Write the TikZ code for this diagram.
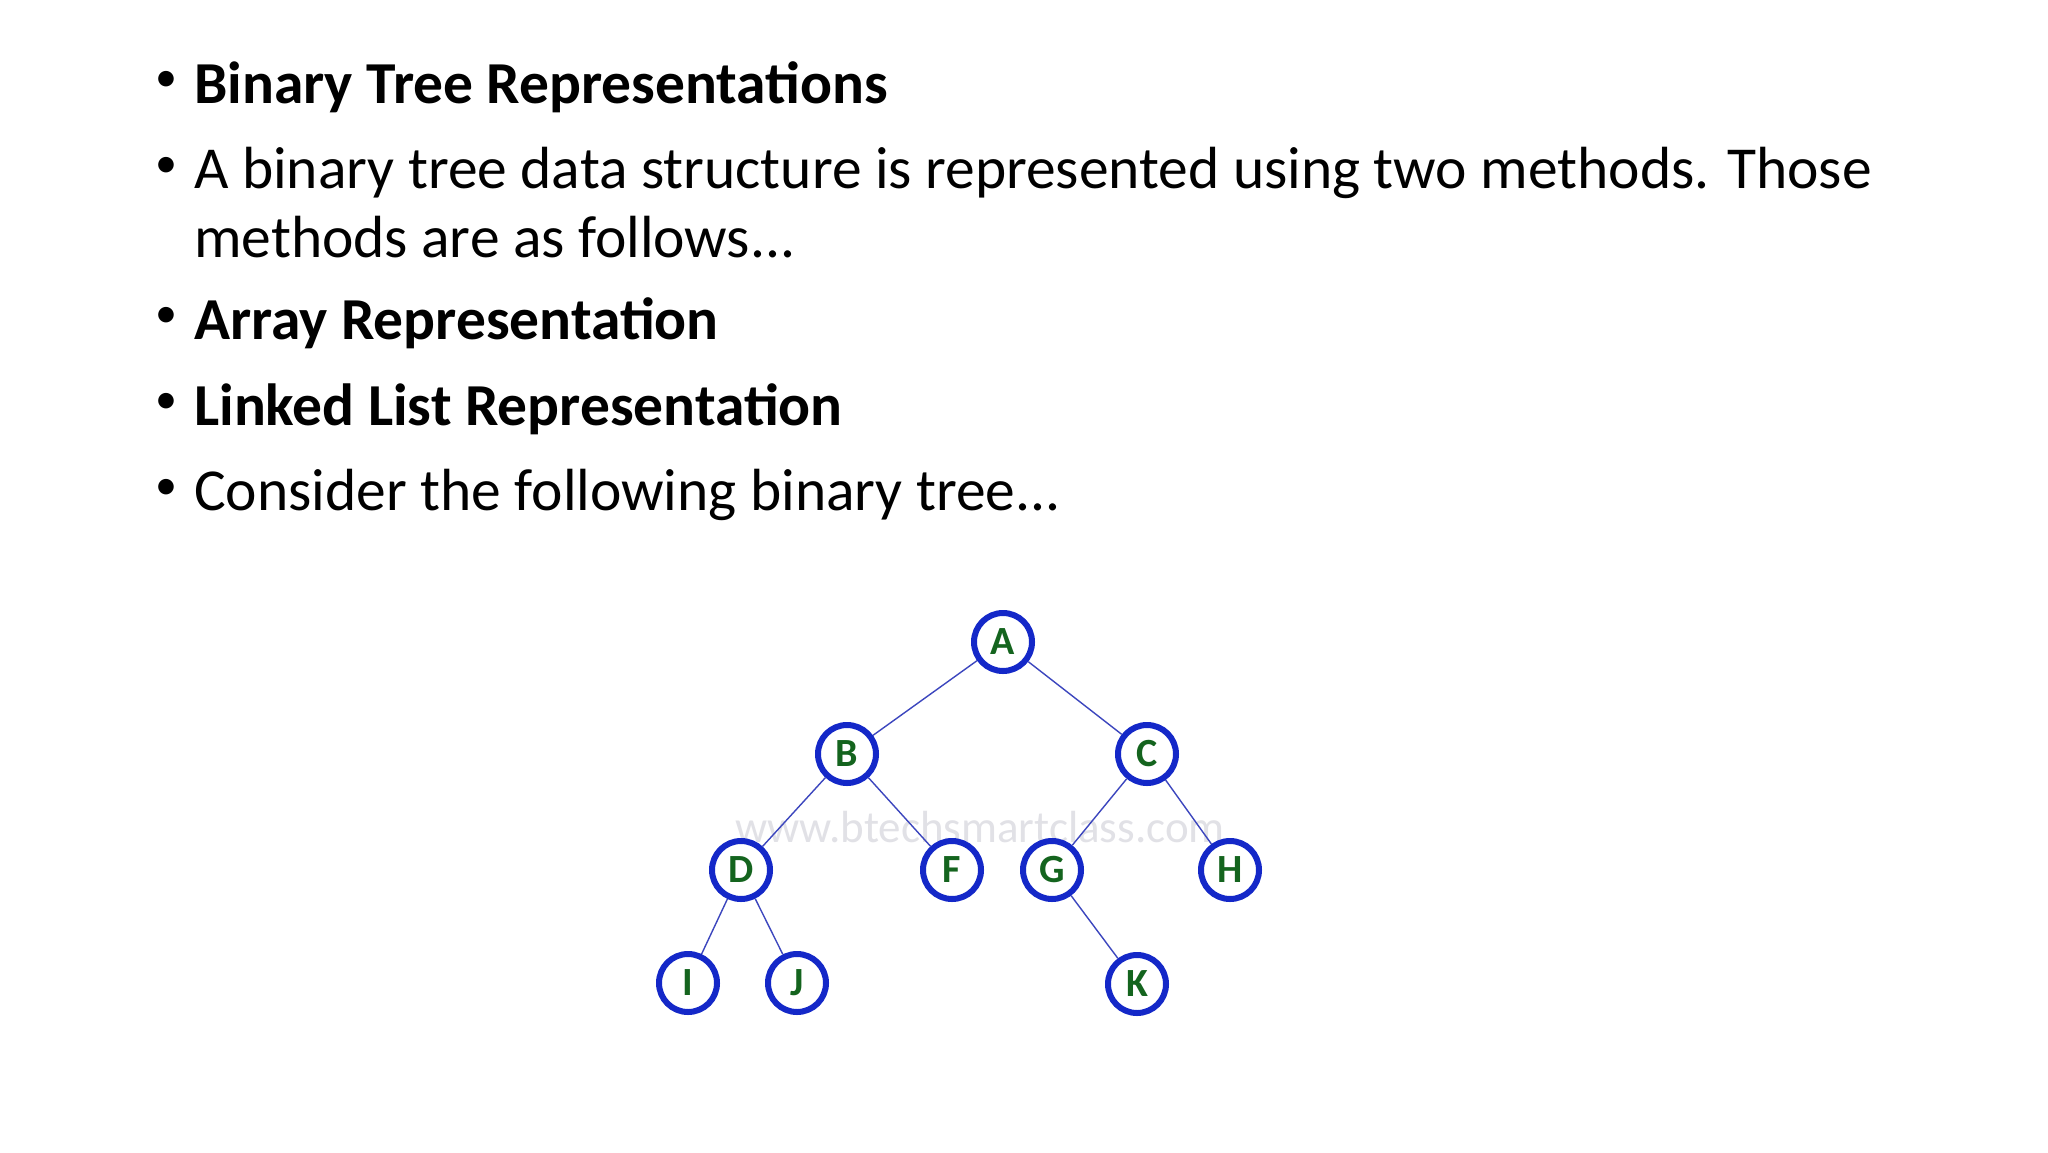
\documentclass[tikz,border=0pt]{standalone}
\usepackage{fontspec}
\setmainfont{Carlito}
\begin{document}
\begin{tikzpicture}[x=1pt,y=-1pt,
  txt/.style={anchor=west,inner sep=0pt,font=\fontsize{59.5}{71}\selectfont},
  bul/.style={anchor=center,inner sep=0pt,font=\fontsize{44}{52}\selectfont},
  tn/.style={circle,draw={rgb,255:red,20;green,40;blue,200},line width=6pt,minimum size=58pt,inner sep=0pt,fill=white,
    text={rgb,255:red,20;green,100;blue,30},font=\fontsize{40}{46}\selectfont\bfseries},
  ed/.style={draw={rgb,255:red,60;green,70;blue,190},line width=1.4pt}]
\fill[white] (0,0) rectangle (2048,1152);
\useasboundingbox (0,0) rectangle (2048,1152);
\foreach \y in {81,167,317,403,489} \node[bul] at (166,\y) {•};
\node[txt] (t1) at (194,87) {\textbf{Binary Tree Representations}};
\node[txt] (t2) at (194,173) {A binary tree data structure is represented using two methods. Those};
\node[txt] (t3) at (194,237) {methods are as follows...};
\node[txt] (t4) at (194,323) {\textbf{Array Representation}};
\node[txt] (t5) at (194,409) {\textbf{Linked List Representation}};
\node[txt] (t6) at (194,495) {Consider the following binary tree...};
\node[text={rgb,255:red,225;green,225;blue,230},font=\fontsize{45}{52}\selectfont] (wm) at (980,827) {www.btechsmartclass.com};
\node[tn] (A) at (1003,642) {A};
\node[tn] (B) at (847,754) {B};
\node[tn] (C) at (1147,754) {C};
\node[tn] (D) at (741,870) {D};
\node[tn] (F) at (952,870) {F};
\node[tn] (G) at (1052,870) {G};
\node[tn] (H) at (1230,870) {H};
\node[tn] (I) at (688,983) {I};
\node[tn] (J) at (797,983) {J};
\node[tn] (K) at (1137,984) {K};
\foreach \a/\b in {A/B,A/C,B/D,B/F,C/G,C/H,D/I,D/J,G/K} \draw[ed] (\a) -- (\b);
\end{tikzpicture}
\end{document}
